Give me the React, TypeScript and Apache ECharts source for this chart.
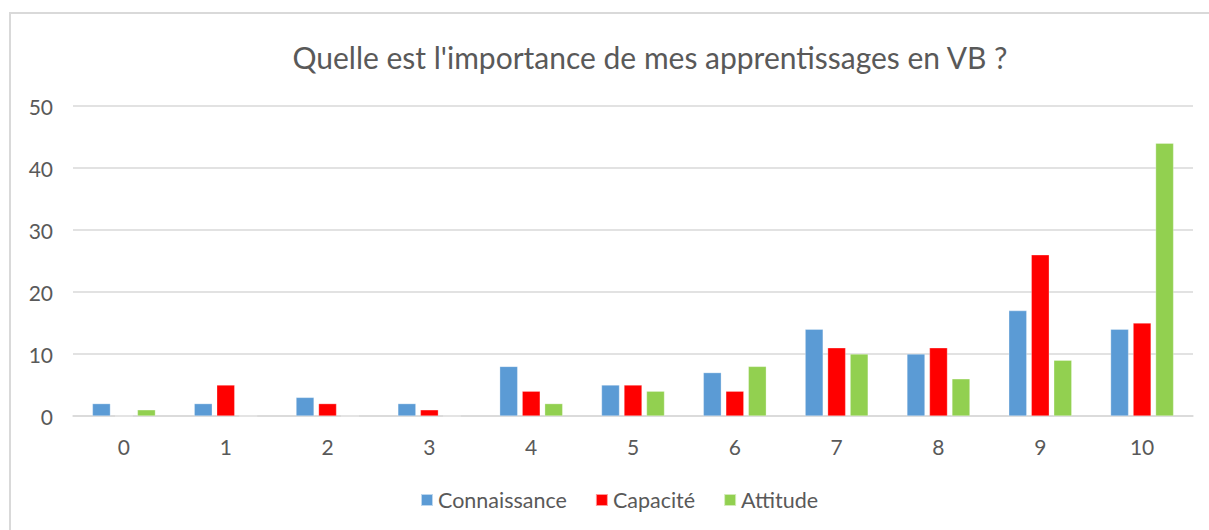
import React, { useEffect, useRef } from "react";
import * as echarts from "echarts";

const categories = ["0", "1", "2", "3", "4", "5", "6", "7", "8", "9", "10"];
const connaissance = [2, 2, 3, 2, 8, 5, 7, 14, 10, 17, 14];
const capacite = [0, 5, 2, 1, 4, 5, 4, 11, 11, 26, 15];
const attitude = [1, 0, 0, 0, 2, 4, 8, 10, 6, 9, 44];
const seriesNames = ["Connaissance", "Capacité", "Attitude"];
const titleText = "Quelle est l'importance de mes apprentissages en VB ?";

const FONT = "Lato, 'Open Sans', sans-serif";
const TEXT_COLOR = "#595959";

export default function App() {
  const ref = useRef<HTMLDivElement>(null);
  useEffect(() => {
    if (!ref.current) return;
    const chart = echarts.init(ref.current, undefined, { renderer: "svg" });
    const mkSeries = (name: string, data: number[], color: string) => ({
      name,
      type: "bar",
      data,
      barWidth: 18,
      barGap: "25%",
      itemStyle: { color, borderColor: "rgba(255,255,255,0.6)", borderWidth: 0.5 },
    });
    chart.setOption({
      animation: false,
      backgroundColor: "#ffffff",
      textStyle: { fontFamily: FONT },
      graphic: [
        {
          type: "rect",
          shape: { x: 10, y: 13, width: 1260, height: 560 },
          style: { fill: "none", stroke: "#d9d9d9", lineWidth: 2 },
          silent: true,
        },
      ],
      title: {
        text: titleText,
        left: 645,
        top: 37,
        textAlign: "center",
        textStyle: {
          fontFamily: FONT,
          fontSize: 30,
          fontWeight: "normal",
          color: TEXT_COLOR,
        },
      },
      legend: {
        data: seriesNames,
        bottom: 14,
        left: 415,
        icon: "rect",
        itemWidth: 12,
        itemHeight: 12,
        itemGap: 28,
        textStyle: { fontFamily: FONT, fontSize: 21.5, color: TEXT_COLOR },
      },
      grid: { left: 73, right: 16, top: 106, bottom: 114, containLabel: false },
      xAxis: {
        type: "category",
        data: categories,
        axisLine: { lineStyle: { color: "#d9d9d9", width: 1.5 } },
        axisTick: { show: false },
        axisLabel: { fontFamily: FONT, fontSize: 21, color: TEXT_COLOR, margin: 20 },
      },
      yAxis: {
        type: "value",
        min: 0,
        max: 50,
        interval: 10,
        axisLine: { show: false },
        axisTick: { show: false },
        splitLine: { lineStyle: { color: "#d9d9d9", width: 1.5 } },
        axisLabel: { fontFamily: FONT, fontSize: 21, color: TEXT_COLOR, margin: 20 },
      },
      series: [
        mkSeries(seriesNames[0], connaissance, "#5B9BD5"),
        mkSeries(seriesNames[1], capacite, "#FF0000"),
        mkSeries(seriesNames[2], attitude, "#92D050"),
      ],
    });
    return () => chart.dispose();
  }, []);
  return (
    <div
      ref={ref}
      style={{ position: "fixed", left: 0, top: 0, width: 1209, height: 530, background: "#fff" }}
    />
  );
}
